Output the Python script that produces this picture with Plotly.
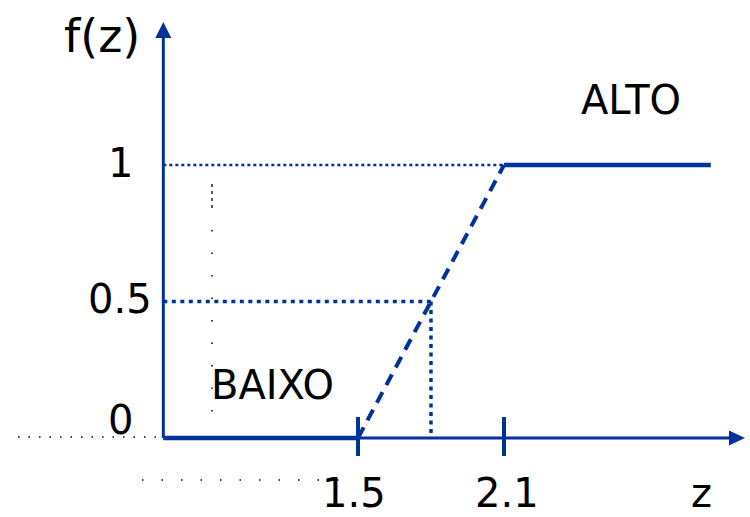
import plotly.graph_objects as go

# ---- data (membership functions BAIXO / ALTO) ----
z_ticks = [1.5, 2.1]
z_tick_labels = ["1.5", "2.1"]
f_ticks = [0, 0.5, 1]
f_tick_labels = ["0", "0.5", "1"]
z_axis_origin = 0.7          # where the vertical f(z) axis crosses
baixo_z = [0.7, 1.5]
baixo_f = [0, 0]
ramp_z = [1.5, 2.1]
ramp_f = [0, 1]
alto_z = [2.1, 2.95]
alto_f = [1, 1]
half_z = 1.8
half_f = 0.5

W, H = 750, 517
BLUE = "#003399"
FONT = "DejaVu Sans"

# axis ranges chosen so that the plot area fills the whole canvas
X0, X1 = 0.02877, 3.1110
Y0, Y1 = -0.2894, 1.6044


def px(x):
    return (x - X0) / (X1 - X0) * W


def py(y):
    return H - (y - Y0) / (Y1 - Y0) * H


fig = go.Figure()

# reference dotted guides
fig.add_trace(go.Scatter(x=[z_axis_origin, ramp_z[1]], y=[ramp_f[1], ramp_f[1]], mode="lines",
                         line=dict(color=BLUE, width=2.5, dash="3px,3px"), hoverinfo="skip"))
fig.add_trace(go.Scatter(x=[z_axis_origin, half_z], y=[half_f, half_f], mode="lines",
                         line=dict(color=BLUE, width=3.5, dash="4px,4.5px"), hoverinfo="skip"))
fig.add_trace(go.Scatter(x=[half_z, half_z], y=[half_f, 0], mode="lines",
                         line=dict(color=BLUE, width=3.5, dash="4px,4.5px"), hoverinfo="skip"))

# BAIXO / ramp / ALTO
fig.add_trace(go.Scatter(x=baixo_z, y=baixo_f, mode="lines",
                         line=dict(color=BLUE, width=4.5), hoverinfo="skip"))
fig.add_trace(go.Scatter(x=ramp_z, y=ramp_f, mode="lines",
                         line=dict(color=BLUE, width=4, dash="12px,8px"), hoverinfo="skip"))
fig.add_trace(go.Scatter(x=alto_z, y=alto_f, mode="lines",
                         line=dict(color=BLUE, width=4.5), hoverinfo="skip"))

shapes = []
# axes with arrowheads
ox, oy = px(z_axis_origin), py(0)
shapes.append(dict(type="line", xref="x", yref="y", x0=z_axis_origin, x1=z_axis_origin,
                   y0=0, y1=Y1 - (38 / H) * (Y1 - Y0), line=dict(color=BLUE, width=3)))
shapes.append(dict(type="line", xref="x", yref="y", x0=z_axis_origin,
                   x1=X0 + (730 / W) * (X1 - X0), y0=0, y1=0, line=dict(color=BLUE, width=2.8)))


def tri(points):
    d = "M " + " L ".join(f"{x/W:.5f},{1 - y/H:.5f}" for x, y in points) + " Z"
    return dict(type="path", xref="paper", yref="paper", path=d,
                fillcolor=BLUE, line=dict(color=BLUE, width=0))


shapes.append(tri([(ox, 22), (ox - 8, 38), (ox + 8, 38)]))
shapes.append(tri([(745, oy), (729, oy - 7.5), (729, oy + 7.5)]))
# ticks on z axis
for zt in z_ticks:
    shapes.append(dict(type="line", xref="x", yref="paper", x0=zt, x1=zt,
                       y0=1 - 456 / H, y1=1 - 417 / H, line=dict(color=BLUE, width=4)))
# faint black dotted artifacts of the original drawing
shapes.append(dict(type="line", xref="paper", yref="paper", x0=212 / W, x1=212 / W,
                   y0=1 - 184 / H, y1=1 - 212 / H, line=dict(color="black", width=1.3, dash="3px,4px")))
shapes.append(dict(type="line", xref="paper", yref="paper", x0=212 / W, x1=212 / W,
                   y0=1 - 230 / H, y1=1 - 432 / H, line=dict(color="black", width=1.5, dash="1.5px,21px")))
shapes.append(dict(type="line", xref="paper", yref="paper", x0=18 / W, x1=158 / W,
                   y0=1 - 437 / H, y1=1 - 437 / H, line=dict(color="black", width=1.5, dash="1.5px,9px")))
shapes.append(dict(type="line", xref="paper", yref="paper", x0=142 / W, x1=340 / W,
                   y0=1 - 480 / H, y1=1 - 480 / H, line=dict(color="black", width=1.5, dash="1.5px,18px")))

annotations = []


def txt(text, x, y, xref="paper", yref="paper", xanchor="center", size=40, yshift=0, xshift=0):
    annotations.append(dict(text=text, x=x, y=y, xref=xref, yref=yref, xanchor=xanchor,
                            yanchor="middle", showarrow=False, yshift=yshift, xshift=xshift,
                            font=dict(family=FONT, size=size, color="black")))


# f tick labels
for fv, lab in zip(f_ticks, f_tick_labels):
    shift = {0: 18, 0.5: 3, 1: 2}[fv]
    txt(lab, 120 / W, fv, yref="y", yshift=shift)
# z tick labels
for zt, lab in zip(z_ticks, z_tick_labels):
    txt(lab, zt, 1 - 493 / H, xref="x", xshift=-4 if zt == 1.5 else 3)
txt("z", 701 / W, 1 - 493 / H)
txt("f(z)", 102 / W, 1 - 36 / H, size=46)
txt("BAIXO", 272 / W, 1 - 385 / H)
txt("ALTO", 631 / W, 1 - 100 / H)

fig.update_layout(
    width=W, height=H, margin=dict(l=0, r=0, t=0, b=0),
    paper_bgcolor="white", plot_bgcolor="white", showlegend=False,
    xaxis=dict(range=[X0, X1], visible=False, fixedrange=True),
    yaxis=dict(range=[Y0, Y1], visible=False, fixedrange=True),
    shapes=shapes, annotations=annotations,
)
fig.write_html("out.html", config={"displayModeBar": False},
               post_script="document.body.style.margin='0';")
